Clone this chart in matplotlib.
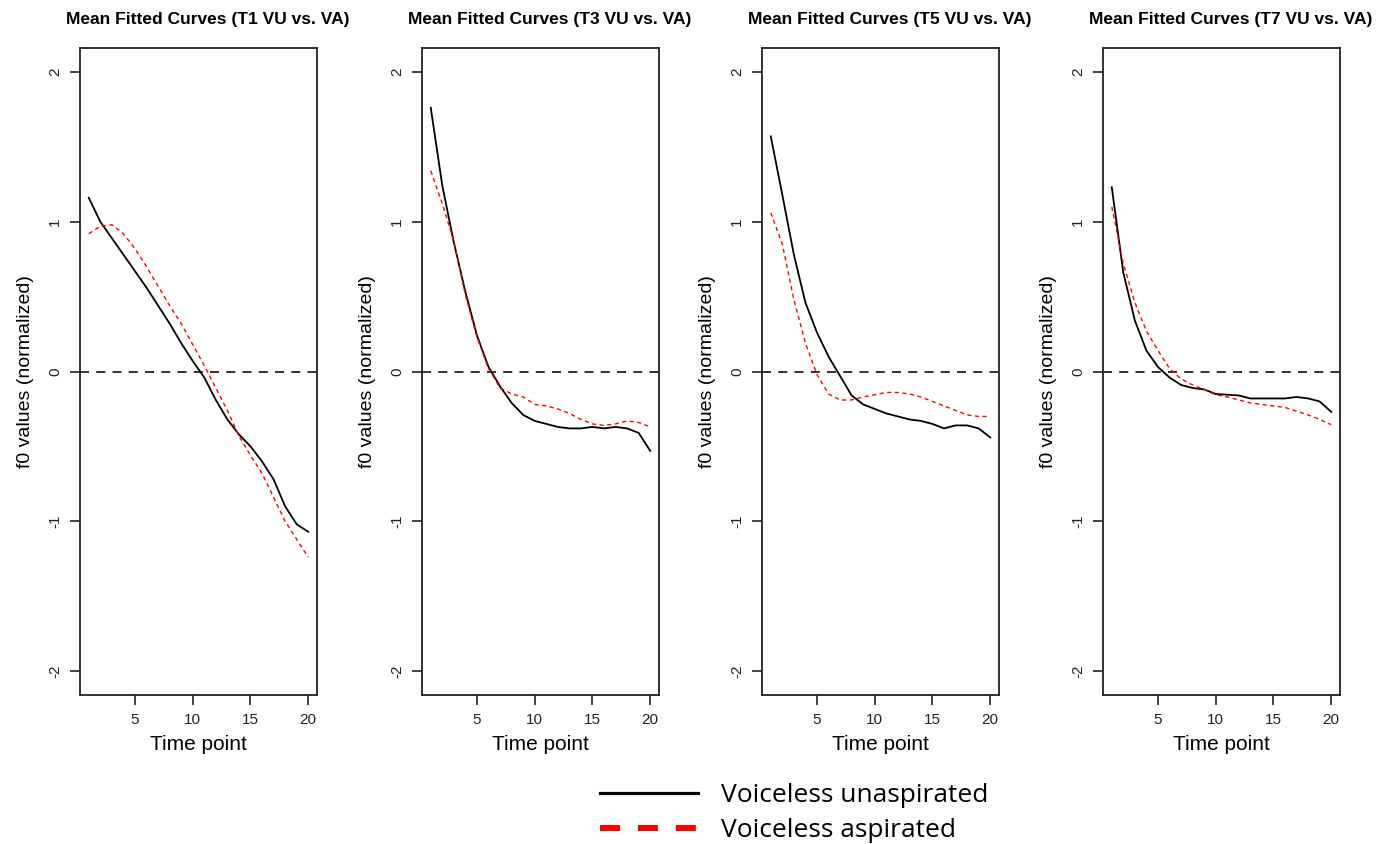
import matplotlib.pyplot as plt
from matplotlib.lines import Line2D

plt.rcParams['font.family'] = ['Liberation Sans', 'DejaVu Sans']

t = list(range(1, 21))
titles = ['Mean Fitted Curves (T1 VU vs. VA)', 'Mean Fitted Curves (T3 VU vs. VA)',
          'Mean Fitted Curves (T5 VU vs. VA)', 'Mean Fitted Curves (T7 VU vs. VA)']

# voiceless unaspirated (black) / voiceless aspirated (red)
vu_t1 = [1.16, 1.00, 0.89, 0.78, 0.67, 0.56, 0.44, 0.32, 0.19, 0.07,
         -0.04, -0.19, -0.32, -0.42, -0.50, -0.60, -0.72, -0.90, -1.02, -1.07]
va_t1 = [0.92, 0.97, 0.98, 0.92, 0.82, 0.70, 0.57, 0.44, 0.32, 0.18,
         0.04, -0.11, -0.26, -0.43, -0.56, -0.68, -0.84, -1.00, -1.12, -1.24]
vu_t3 = [1.76, 1.24, 0.86, 0.53, 0.24, 0.03, -0.10, -0.21, -0.29, -0.33,
         -0.35, -0.37, -0.38, -0.38, -0.37, -0.38, -0.37, -0.38, -0.41, -0.53]
va_t3 = [1.34, 1.12, 0.87, 0.51, 0.23, 0.02, -0.11, -0.15, -0.17, -0.22,
         -0.23, -0.25, -0.28, -0.32, -0.35, -0.36, -0.35, -0.33, -0.34, -0.37]
vu_t5 = [1.57, 1.18, 0.78, 0.46, 0.26, 0.10, -0.03, -0.16, -0.22, -0.25,
         -0.28, -0.30, -0.32, -0.33, -0.35, -0.38, -0.36, -0.36, -0.38, -0.44]
va_t5 = [1.06, 0.85, 0.48, 0.19, -0.02, -0.15, -0.19, -0.19, -0.17, -0.155,
         -0.14, -0.14, -0.15, -0.17, -0.20, -0.23, -0.26, -0.29, -0.30, -0.30]
vu_t7 = [1.23, 0.66, 0.34, 0.14, 0.03, -0.04, -0.09, -0.11, -0.12, -0.15,
         -0.155, -0.16, -0.18, -0.18, -0.18, -0.18, -0.17, -0.18, -0.20, -0.27]
va_t7 = [1.10, 0.72, 0.46, 0.27, 0.14, 0.02, -0.05, -0.09, -0.12, -0.155,
         -0.17, -0.19, -0.21, -0.22, -0.23, -0.24, -0.265, -0.29, -0.32, -0.355]

vu_all = [vu_t1, vu_t3, vu_t5, vu_t7]
va_all = [va_t1, va_t3, va_t5, va_t7]

W, H = 1388, 844
fig = plt.figure(figsize=(W / 100, H / 100), dpi=100)

lefts = [80, 422, 762, 1103]
for i in range(4):
    ax = fig.add_axes([lefts[i] / W, 1 - 695 / H, 237 / W, (695 - 48) / H])
    ax.axhline(0, color='#222222', lw=1.3, ls=(0, (5, 4)))
    ax.plot(t, vu_all[i], color='black', lw=1.3)
    ax.plot(t, va_all[i], color='red', lw=1.0, ls=(0, (3, 2.5)))
    ax.set_xlim(0.24, 20.76)
    ax.set_ylim(-2.16, 2.16)
    ax.set_xticks([5, 10, 15, 20])
    ax.set_yticks([-2, -1, 0, 1, 2])
    ax.set_yticklabels(['-2', '-1', '0', '1', '2'], rotation=90, va='center')
    ax.tick_params(direction='out', length=7, width=1.2, labelsize=11,
                   colors='#222222', pad=6)
    for s in ax.spines.values():
        s.set_linewidth(1.3)
        s.set_color('#222222')
    ax.set_title(titles[i], fontsize=12.5, fontweight='bold', pad=17,
                 x=0.5 + 9 / 237)
    ax.set_xlabel('Time point', fontsize=15, labelpad=6)
    ax.set_ylabel('f0 values (normalized)', fontsize=14, labelpad=10)

handles = [Line2D([], [], color='black', lw=2.3),
           Line2D([], [], color='red', lw=4.3, ls=(0, (3.35, 3.0)))]
fig.legend(handles, ['Voiceless unaspirated', 'Voiceless aspirated'],
           loc='upper left', bbox_to_anchor=(600 / W, 1 - 783 / H),
           prop={'family': 'Open Sans', 'size': 19}, frameon=False,
           handlelength=3.7, handletextpad=0.9, borderpad=0,
           labelspacing=0.38, borderaxespad=0)

fig.savefig('out.png', dpi=100)
